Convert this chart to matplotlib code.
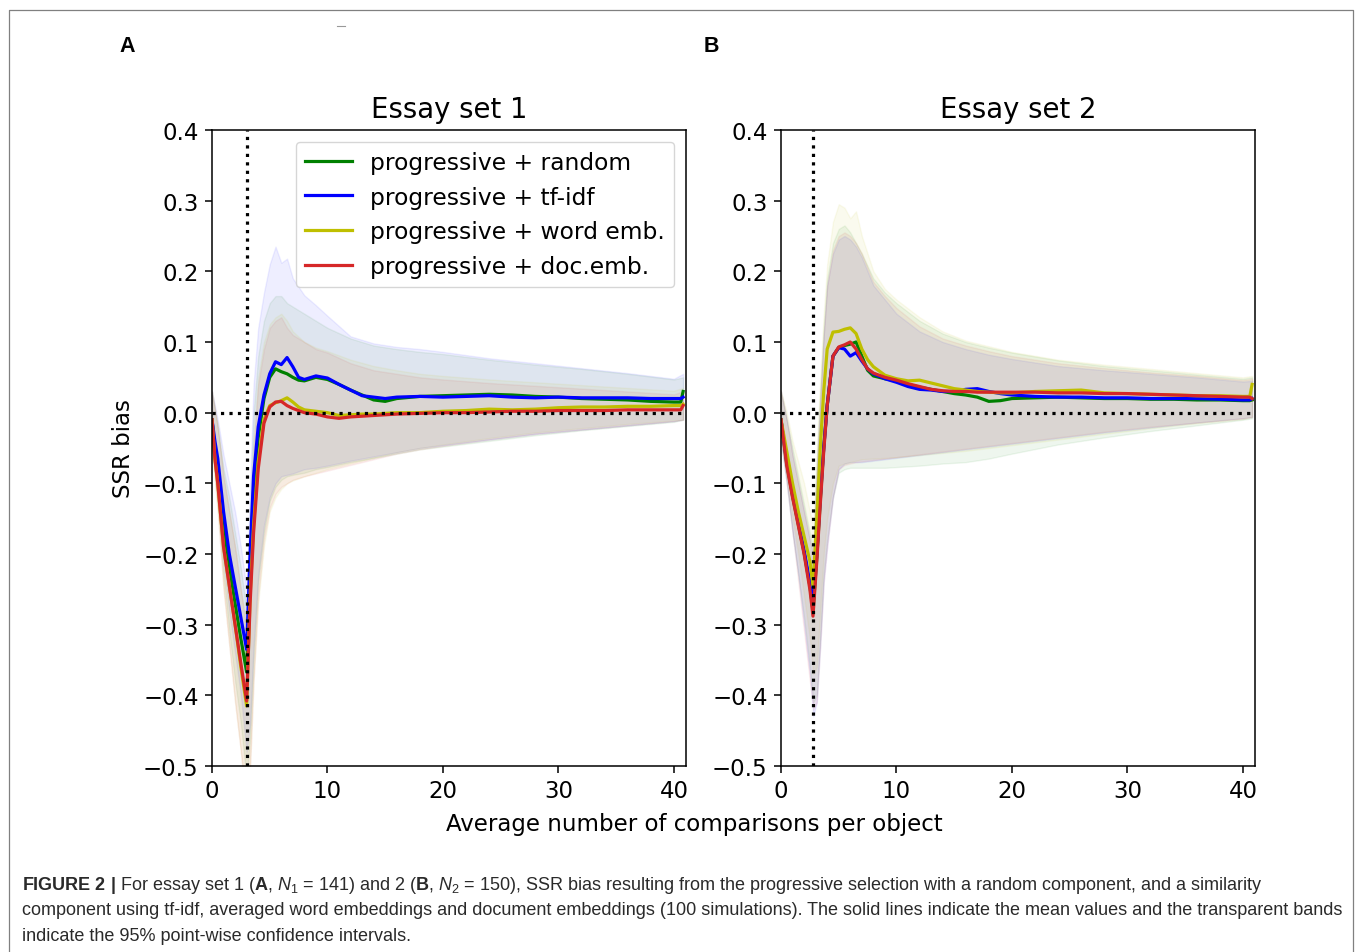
import matplotlib
matplotlib.use('Agg')
import matplotlib.pyplot as plt
from matplotlib.lines import Line2D

# ---------------- datos ----------------
nombres = ['progressive + random', 'progressive + tf-idf', 'progressive + word emb.', 'progressive + doc.emb.']
colores = ['g', 'b', 'y', 'tab:red']

# panel A (essay set 1): medias
xA = [0, 0.25, 0.5, 1, 1.5, 2, 2.5, 3, 3.3, 3.6, 4, 4.5, 5, 5.5, 6, 6.5, 7, 7.5, 8, 9, 10, 11, 12, 13, 14, 15, 16,
      18, 20, 22, 24, 26, 28, 30, 32, 34, 36, 38, 40, 40.6, 40.8]
verdeA = [-0.01, -0.05, -0.085, -0.165, -0.22, -0.27, -0.32, -0.367, -0.22, -0.11, -0.035, 0.02, 0.05, 0.062, 0.058,
          0.055, 0.05, 0.046, 0.045, 0.05, 0.047, 0.04, 0.032, 0.025, 0.018, 0.016, 0.02, 0.023, 0.024, 0.025, 0.026,
          0.025, 0.023, 0.022, 0.02, 0.019, 0.018, 0.016, 0.015, 0.015, 0.03]
azulA = [-0.01, -0.04, -0.065, -0.14, -0.2, -0.245, -0.29, -0.335, -0.2, -0.09, -0.02, 0.025, 0.055, 0.072, 0.068,
         0.078, 0.065, 0.05, 0.047, 0.052, 0.049, 0.04, 0.032, 0.024, 0.022, 0.02, 0.022, 0.023, 0.022, 0.023, 0.024,
         0.022, 0.021, 0.022, 0.021, 0.021, 0.021, 0.02, 0.02, 0.02, 0.022]
amarilloA = [-0.01, -0.065, -0.1, -0.19, -0.245, -0.3, -0.36, -0.415, -0.26, -0.16, -0.07, -0.01, 0.01, 0.014, 0.017,
             0.021, 0.015, 0.008, 0.004, 0.002, 0.0, -0.004, -0.003, -0.002, -0.002, -0.001, 0.0, 0.0, 0.002, 0.003,
             0.005, 0.004, 0.005, 0.007, 0.008, 0.008, 0.009, 0.009, 0.01, 0.01, 0.012]
rojoA = [-0.01, -0.065, -0.1, -0.19, -0.245, -0.3, -0.355, -0.408, -0.27, -0.17, -0.08, -0.015, 0.008, 0.015, 0.016,
         0.01, 0.006, 0.003, 0.0, -0.002, -0.006, -0.008, -0.006, -0.005, -0.004, -0.003, -0.002, -0.001, 0.0, 0.0,
         0.001, 0.002, 0.002, 0.003, 0.003, 0.003, 0.004, 0.004, 0.004, 0.004, 0.01]

# panel A: bandas de confianza 95%
xbandaA = [0, 0.5, 1, 1.5, 2, 2.5, 3, 3.3, 3.6, 4, 4.5, 5, 5.5, 6, 6.5, 7, 8, 9, 10, 12, 14, 16, 18, 20, 24, 28, 32,
           36, 40, 40.8]
supVerdeA = [0.03, -0.02, -0.08, -0.12, -0.17, -0.22, -0.28, -0.13, 0.0, 0.08, 0.13, 0.155, 0.165, 0.165, 0.155, 0.15,
             0.14, 0.13, 0.12, 0.105, 0.095, 0.09, 0.086, 0.083, 0.075, 0.068, 0.062, 0.055, 0.047, 0.05]
supAzulA = [0.03, -0.01, -0.06, -0.1, -0.14, -0.19, -0.25, -0.1, 0.04, 0.12, 0.17, 0.21, 0.235, 0.212, 0.218, 0.19,
            0.166, 0.152, 0.137, 0.108, 0.098, 0.093, 0.09, 0.086, 0.077, 0.07, 0.063, 0.056, 0.048, 0.055]
supAmarilloA = [0.03, -0.02, -0.09, -0.14, -0.19, -0.25, -0.3, -0.17, -0.04, 0.05, 0.1, 0.125, 0.135, 0.14, 0.13,
                0.115, 0.1, 0.092, 0.087, 0.075, 0.066, 0.06, 0.055, 0.052, 0.047, 0.043, 0.039, 0.035, 0.031, 0.035]
supRojoA = [0.03, -0.02, -0.09, -0.14, -0.19, -0.25, -0.31, -0.18, -0.05, 0.04, 0.09, 0.12, 0.13, 0.135, 0.12, 0.11,
            0.1, 0.09, 0.085, 0.07, 0.06, 0.055, 0.05, 0.047, 0.042, 0.038, 0.034, 0.03, 0.026, 0.03]
infVerdeA = [-0.045, -0.13, -0.23, -0.31, -0.38, -0.44, -0.52, -0.46, -0.35, -0.24, -0.17, -0.125, -0.105, -0.095,
             -0.09, -0.088, -0.085, -0.08, -0.077, -0.07, -0.064, -0.058, -0.052, -0.048, -0.04, -0.032, -0.025,
             -0.019, -0.013, -0.01]
infAzulA = [-0.04, -0.12, -0.21, -0.28, -0.34, -0.4, -0.48, -0.44, -0.33, -0.23, -0.16, -0.12, -0.1, -0.09, -0.088,
            -0.086, -0.08, -0.078, -0.075, -0.068, -0.062, -0.056, -0.05, -0.046, -0.038, -0.03, -0.024, -0.018,
            -0.012, -0.01]
infAmarilloA = [-0.05, -0.14, -0.25, -0.33, -0.41, -0.48, -0.56, -0.5, -0.38, -0.27, -0.19, -0.14, -0.12, -0.108,
                -0.1, -0.096, -0.09, -0.085, -0.08, -0.072, -0.064, -0.056, -0.05, -0.045, -0.036, -0.028, -0.022,
                -0.016, -0.011, -0.01]
infRojoA = [-0.05, -0.14, -0.25, -0.33, -0.41, -0.48, -0.56, -0.5, -0.38, -0.26, -0.18, -0.135, -0.115, -0.105, -0.1,
            -0.095, -0.09, -0.086, -0.082, -0.074, -0.066, -0.058, -0.052, -0.047, -0.038, -0.03, -0.024, -0.018,
            -0.012, -0.01]

# panel B (essay set 2): medias
xB = [0, 0.5, 1, 1.5, 2, 2.5, 2.77, 3.1, 3.4, 3.7, 4, 4.5, 5, 5.5, 6, 6.5, 7, 7.5, 8, 9, 10, 11, 12, 13, 14, 15, 16,
      17, 18, 19, 20, 22, 24, 26, 28, 30, 32, 34, 36, 38, 40, 40.6, 40.8]
verdeB = [-0.01, -0.072, -0.118, -0.158, -0.198, -0.245, -0.28, -0.205, -0.125, -0.05, 0.01, 0.08, 0.092, 0.095,
          0.097, 0.1, 0.08, 0.06, 0.052, 0.048, 0.045, 0.04, 0.036, 0.033, 0.03, 0.027, 0.025, 0.022, 0.016, 0.017,
          0.02, 0.021, 0.022, 0.021, 0.02, 0.02, 0.019, 0.019, 0.018, 0.018, 0.017, 0.017, 0.018]
azulB = [-0.01, -0.07, -0.115, -0.155, -0.195, -0.24, -0.272, -0.2, -0.12, -0.05, 0.01, 0.08, 0.092, 0.09, 0.08,
         0.085, 0.073, 0.062, 0.055, 0.048, 0.043, 0.037, 0.033, 0.032, 0.03, 0.03, 0.033, 0.034, 0.03, 0.027, 0.025,
         0.023, 0.022, 0.022, 0.021, 0.021, 0.02, 0.02, 0.02, 0.019, 0.018, 0.018, 0.02]
amarilloB = [-0.01, -0.055, -0.1, -0.14, -0.175, -0.21, -0.245, -0.15, -0.05, 0.03, 0.09, 0.114, 0.115, 0.118, 0.12,
             0.112, 0.09, 0.075, 0.065, 0.053, 0.048, 0.045, 0.046, 0.042, 0.038, 0.034, 0.032, 0.03, 0.029, 0.028,
             0.028, 0.03, 0.031, 0.032, 0.028, 0.027, 0.026, 0.025, 0.024, 0.024, 0.023, 0.023, 0.04]
rojoB = [-0.01, -0.075, -0.12, -0.16, -0.2, -0.25, -0.288, -0.21, -0.13, -0.055, 0.01, 0.08, 0.093, 0.096, 0.1, 0.09,
         0.075, 0.062, 0.056, 0.05, 0.046, 0.041, 0.037, 0.033, 0.031, 0.03, 0.03, 0.029, 0.029, 0.029, 0.029, 0.029,
         0.028, 0.028, 0.027, 0.027, 0.026, 0.025, 0.024, 0.023, 0.022, 0.022, 0.02]

# panel B: bandas
xbandaB = [0, 0.5, 1, 1.5, 2, 2.5, 2.8, 3.1, 3.4, 3.7, 4, 4.5, 5, 5.5, 6, 6.5, 7, 8, 9, 10, 12, 14, 16, 18, 20, 24,
           28, 32, 36, 40, 40.8]
supVerdeB = [0.03, -0.01, -0.05, -0.09, -0.13, -0.17, -0.19, -0.07, 0.03, 0.12, 0.19, 0.24, 0.26, 0.265, 0.255, 0.24,
             0.225, 0.19, 0.17, 0.155, 0.13, 0.112, 0.1, 0.092, 0.085, 0.074, 0.066, 0.06, 0.054, 0.048, 0.05]
supAzulB = [0.03, -0.01, -0.06, -0.1, -0.14, -0.18, -0.2, -0.08, 0.02, 0.11, 0.18, 0.225, 0.245, 0.25, 0.245, 0.235,
            0.22, 0.18, 0.16, 0.14, 0.115, 0.1, 0.09, 0.082, 0.076, 0.066, 0.06, 0.055, 0.05, 0.044, 0.045]
supAmarilloB = [0.03, 0.0, -0.04, -0.07, -0.1, -0.14, -0.16, -0.05, 0.05, 0.14, 0.21, 0.27, 0.295, 0.29, 0.275,
                0.285, 0.25, 0.2, 0.175, 0.16, 0.135, 0.115, 0.102, 0.094, 0.086, 0.075, 0.068, 0.062, 0.056, 0.05,
                0.052]
supRojoB = [0.03, -0.01, -0.06, -0.1, -0.14, -0.18, -0.2, -0.08, 0.02, 0.11, 0.18, 0.23, 0.25, 0.255, 0.25, 0.24,
            0.225, 0.185, 0.165, 0.148, 0.122, 0.105, 0.095, 0.087, 0.08, 0.07, 0.063, 0.057, 0.052, 0.046, 0.048]
infVerdeB = [-0.04, -0.1, -0.17, -0.23, -0.29, -0.36, -0.41, -0.4, -0.32, -0.23, -0.18, -0.12, -0.085, -0.08, -0.078,
             -0.078, -0.078, -0.078, -0.078, -0.077, -0.075, -0.072, -0.07, -0.065, -0.058, -0.045, -0.035, -0.026,
             -0.018, -0.01, -0.008]
infAzulB = [-0.04, -0.1, -0.17, -0.23, -0.3, -0.37, -0.43, -0.41, -0.33, -0.24, -0.19, -0.12, -0.08, -0.072, -0.07,
            -0.07, -0.07, -0.068, -0.066, -0.064, -0.06, -0.056, -0.052, -0.048, -0.044, -0.036, -0.028, -0.021,
            -0.014, -0.008, -0.006]
infAmarilloB = [-0.04, -0.09, -0.15, -0.2, -0.26, -0.32, -0.37, -0.36, -0.28, -0.2, -0.15, -0.1, -0.075, -0.072,
                -0.07, -0.068, -0.066, -0.065, -0.064, -0.063, -0.06, -0.057, -0.054, -0.05, -0.046, -0.038, -0.03,
                -0.022, -0.015, -0.009, -0.006]
infRojoB = [-0.04, -0.1, -0.17, -0.24, -0.31, -0.38, -0.42, -0.41, -0.33, -0.24, -0.19, -0.12, -0.08, -0.074, -0.072,
            -0.07, -0.069, -0.067, -0.065, -0.063, -0.059, -0.055, -0.051, -0.047, -0.043, -0.035, -0.027, -0.02,
            -0.014, -0.008, -0.006]

lineaVertA = 3.03   # linea punteada vertical
lineaVertB = 2.77

# ---------------- estilo ----------------
plt.rcParams['font.family'] = ['DejaVu Sans']
plt.rcParams['font.size'] = 16.5
plt.rcParams['axes.linewidth'] = 1.1
for eje in ['xtick', 'ytick']:
    plt.rcParams[eje + '.major.size'] = 4.8
    plt.rcParams[eje + '.major.width'] = 1.1
    plt.rcParams[eje + '.major.pad'] = 4.8
plt.rcParams['mathtext.fontset'] = 'custom'
plt.rcParams['mathtext.rm'] = 'Liberation Sans'
plt.rcParams['mathtext.it'] = 'Liberation Sans:italic'
plt.rcParams['mathtext.bf'] = 'Liberation Sans:bold'

W, H = 1358, 953
fig = plt.figure(figsize=(W / 100, H / 100), dpi=100)

axA = fig.add_axes([212 / W, 1 - 767 / H, 474 / W, 636 / H])
axB = fig.add_axes([781 / W, 1 - 767 / H, 474 / W, 636 / H])

paneles = [
    (axA, 'Essay set 1', xA, [verdeA, azulA, amarilloA, rojoA], xbandaA,
     [supVerdeA, supAzulA, supAmarilloA, supRojoA], [infVerdeA, infAzulA, infAmarilloA, infRojoA], lineaVertA),
    (axB, 'Essay set 2', xB, [verdeB, azulB, amarilloB, rojoB], xbandaB,
     [supVerdeB, supAzulB, supAmarilloB, supRojoB], [infVerdeB, infAzulB, infAmarilloB, infRojoB], lineaVertB),
]

for ax, titulo, xs, medias, xband, sups, infs, xv in paneles:
    # primero las bandas transparentes
    for c, s, i in zip(colores, sups, infs):
        ax.fill_between(xband, i, s, color=c, alpha=0.065, lw=1)
    for c, m, n in zip(colores, medias, nombres):
        ax.plot(xs, m, color=c, lw=2.3, label=n)
    ax.axvline(xv, color='k', ls=':', lw=2.3, zorder=5)
    ax.axhline(0, color='k', ls=':', lw=2.3, zorder=5)
    ax.set_xlim(0, 41.05)
    ax.set_ylim(-0.5, 0.4)
    ax.set_xticks([0, 10, 20, 30, 40])
    ax.set_yticks([-0.5, -0.4, -0.3, -0.2, -0.1, 0.0, 0.1, 0.2, 0.3, 0.4])
    ax.set_title(titulo, fontsize=19.8, pad=9.5)

axA.set_ylabel('SSR bias', labelpad=5.5)
leg = axA.legend(loc='upper right', fontsize=16.8)
leg.set_zorder(10)

fig.text(694 / W, 1 - 824 / H, 'Average number of comparisons per object', ha='center', va='center', fontsize=16.5)

# letras de panel
fig.text(127 / W, 1 - 47 / H, 'A', fontweight='bold', family='Liberation Sans', fontsize=15.5, ha='center', va='center')
fig.text(711 / W, 1 - 47 / H, 'B', fontweight='bold', family='Liberation Sans', fontsize=15.5, ha='center', va='center')

# marco gris de la pagina (abierto por abajo)
marco = Line2D([8.5 / W, 8.5 / W, 1352.5 / W, 1352.5 / W], [-0.1, 1 - 10.5 / H, 1 - 10.5 / H, -0.1],
               transform=fig.transFigure, color='#808080', lw=0.9)
fig.add_artist(marco)
fig.add_artist(Line2D([337 / W, 345 / W], [1 - 27 / H, 1 - 27 / H], transform=fig.transFigure, color='#999999', lw=0.8))

# pie de figura
lineasPie = [
    r'$\mathbf{FIGURE\ 2\ |}$ For essay set 1 ($\mathbf{A}$, $N_1$ = 141) and 2 ($\mathbf{B}$, $N_2$ = 150), SSR bias '
    r'resulting from the progressive selection with a random component, and a similarity',
    'component using tf-idf, averaged word embeddings and document embeddings (100 simulations). '
    'The solid lines indicate the mean values and the transparent bands',
    'indicate the 95% point-wise confidence intervals.',
]
for k, txt in enumerate(lineasPie):
    fig.text(22 / W, 1 - (890 + 25.3 * k) / H, txt, family='Liberation Sans', fontsize=13.0, color='#2a2a2a',
             ha='left', va='baseline')

fig.savefig('out.png', dpi=100)
